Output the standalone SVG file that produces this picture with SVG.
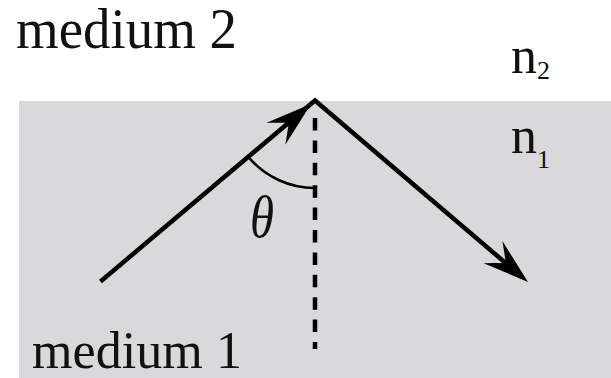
<svg xmlns="http://www.w3.org/2000/svg" width="611" height="378" viewBox="0 0 611 378">
  <style>
    .lbl { font-family: "Liberation Serif", "Times New Roman", serif; fill: #111; }
    .ray { fill: none; stroke: #000; stroke-width: 4.5; stroke-linejoin: miter; stroke-linecap: butt; }
    .head { fill: #000; stroke: none; }
  </style>
  <defs>
    <path id="stealth" d="M0,0 L-46,-14.5 Q-35,-5 -29,0 Q-35,5 -46,14.5 Z"/>
  </defs>
  <rect x="0" y="0" width="611" height="378" fill="#ffffff"/>
  <g id="medium1-region">
    <rect x="19" y="101" width="592" height="277" fill="#d9d9db"/>
  </g>
  <g id="labels">
    <text class="lbl" x="16" y="48" font-size="56" textLength="221" lengthAdjust="spacingAndGlyphs">medium 2</text>
    <text class="lbl" x="32" y="368" font-size="53" textLength="210" lengthAdjust="spacingAndGlyphs">medium 1</text>
    <text class="lbl" x="511" y="73" font-size="52">n<tspan font-size="26" dy="6">2</tspan></text>
    <text class="lbl" x="511" y="153" font-size="52">n<tspan font-size="26" dy="15">1</tspan></text>
    <text class="lbl" x="250" y="237" font-size="60" font-style="italic" textLength="24" lengthAdjust="spacingAndGlyphs">θ</text>
  </g>
  <g id="connectors">
    <polyline class="ray" points="100.5,281.5 315,100.5 522,277"/>
    <use href="#stealth" class="head" transform="translate(311,104) rotate(-40.4)"/>
    <use href="#stealth" class="head" transform="translate(528,282) rotate(40.5)"/>
    <line x1="315" y1="118" x2="315" y2="349" stroke="#000" stroke-width="4.5" stroke-dasharray="12.5 9.9"/>
    <path d="M248.7,157.4 A87,87 0 0 0 315,188" fill="none" stroke="#000" stroke-width="2.5"/>
  </g>
</svg>
